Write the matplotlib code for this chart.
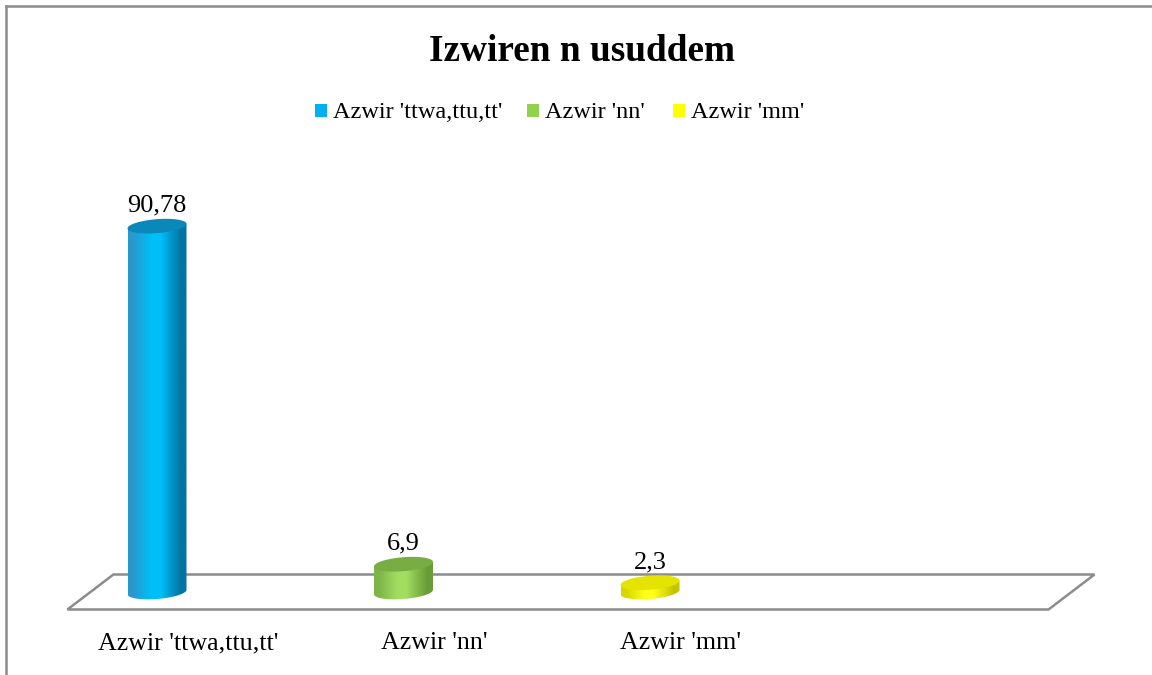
import numpy as np
import matplotlib.pyplot as plt
from matplotlib.colors import LinearSegmentedColormap
from matplotlib.lines import Line2D
from matplotlib.patches import PathPatch, Polygon, Rectangle
from matplotlib.path import Path

plt.rcParams["font.family"] = ["Liberation Serif", "DejaVu Serif"]

title = "Izwiren n usuddem"
categories = ["Azwir 'ttwa,ttu,tt'", "Azwir 'nn'", "Azwir 'mm'"]
values = [90.78, 6.9, 2.3]
value_labels = ["90,78", "6,9", "2,3"]
n_slots = 4

# colours per bar: left edge, light middle, right edge, top cap
bar_left = ["#2A98CC", "#7FB548", "#D6D600"]
bar_mid = ["#00BFF8", "#A2DD62", "#FFFF1A"]
bar_right = ["#0474A4", "#699C37", "#C4C400"]
bar_top = ["#0A88B9", "#77AD42", "#E4E400"]
legend_colors = ["#00B0F0", "#92D050", "#FFFF00"]

W, H = 1152, 675
GRAY = "#8C8C8C"

fig = plt.figure(figsize=(W / 100, H / 100), dpi=100)
ax = fig.add_axes([0, 0, 1, 1])

# pixel geometry of the plot area: slot spacing and value scale
x0_px, dx_px = 157.0, 246.5
y0_px, dy_px = 592.0, 4.03
xlim = ((0 - x0_px) / dx_px, (W - x0_px) / dx_px)
ylim = ((y0_px - H) / dy_px, y0_px / dy_px)
ax.axis("off")

rx = 29.5 / dx_px      # cylinder radius in x units
ry = 7.0 / dy_px       # ellipse half height in value units
tilt = 4.5 / dy_px / (2 * rx)   # caps rise slightly to the right

# floor parallelogram
depth_x = 23.0 / dx_px
depth_y = 17.5 / dy_px
left, right = -0.27, -0.27 + n_slots * 0.995
floor = Polygon(
    [
        (left - depth_x, -depth_y),
        (right - depth_x, -depth_y),
        (right + depth_x, depth_y),
        (left + depth_x, depth_y),
    ],
    closed=True, fill=False, edgecolor=GRAY, linewidth=1.8, zorder=1,
)
ax.add_patch(floor)


def draw_cylinder(ax, xc, h, c_left, c_mid, c_right, c_top):
    t = np.linspace(np.pi, 2 * np.pi, 80)
    xb = xc + rx * np.cos(t)
    yb = ry * np.sin(t) + tilt * (xb - xc)
    verts = [(xc - rx, h - tilt * rx)] + list(zip(xb, yb)) + [(xc + rx, h + tilt * rx), (xc - rx, h - tilt * rx)]
    codes = [Path.MOVETO] + [Path.LINETO] * (len(verts) - 2) + [Path.CLOSEPOLY]
    body = PathPatch(Path(verts, codes), facecolor="none", edgecolor="none", zorder=3)
    ax.add_patch(body)

    cmap = LinearSegmentedColormap.from_list(
        "cyl",
        [(0.0, c_left), (0.08, c_left), (0.4, c_mid), (0.55, c_mid), (0.9, c_right), (1.0, c_right)],
    )
    grad = np.linspace(0, 1, 200)[None, :]
    img = ax.imshow(
        grad, cmap=cmap, aspect="auto", interpolation="bilinear",
        extent=(xc - rx, xc + rx, -ry - 1, h + ry + 1), zorder=3,
    )
    img.set_clip_path(body)

    ta = np.linspace(0, 2 * np.pi, 120)
    xt = xc + rx * np.cos(ta)
    yt = h + ry * np.sin(ta) + tilt * (xt - xc)
    ax.add_patch(Polygon(np.column_stack([xt, yt]), closed=True, facecolor=c_top,
                         edgecolor="none", zorder=4))


for i, (v, lab) in enumerate(zip(values, value_labels)):
    draw_cylinder(ax, i, v, bar_left[i], bar_mid[i], bar_right[i], bar_top[i])
    ax.text(i, v + ry + 1.8, lab, ha="center", va="baseline", fontsize=19, zorder=5)

for i, cat in enumerate(categories):
    ax.text(i + 0.125, (y0_px - 649) / dy_px, cat, ha="center", va="baseline", fontsize=18.7)

ax.set_xlim(*xlim)
ax.set_ylim(*ylim)

fig.text(582 / W, 1 - 61 / H, title, ha="center", va="baseline",
         fontsize=26.8, fontweight="bold")

# legend
legend_x = [315, 527, 673]
for lx, c, cat in zip(legend_x, legend_colors, categories):
    fig.add_artist(Rectangle((lx / W, 1 - 117 / H), 12 / W, 13 / H,
                             transform=fig.transFigure, facecolor=c, edgecolor="none"))
    fig.text((lx + 18) / W, 1 - 118 / H, cat, ha="left", va="baseline", fontsize=17.5)

# outer frame (top and left edges visible)
fig.add_artist(Line2D([6 / W, 1], [1 - 6 / H, 1 - 6 / H], transform=fig.transFigure,
                      color=GRAY, linewidth=1.8))
fig.add_artist(Line2D([6 / W, 6 / W], [0, 1 - 6 / H], transform=fig.transFigure,
                      color=GRAY, linewidth=1.8))

fig.savefig("out.png", dpi=100)
